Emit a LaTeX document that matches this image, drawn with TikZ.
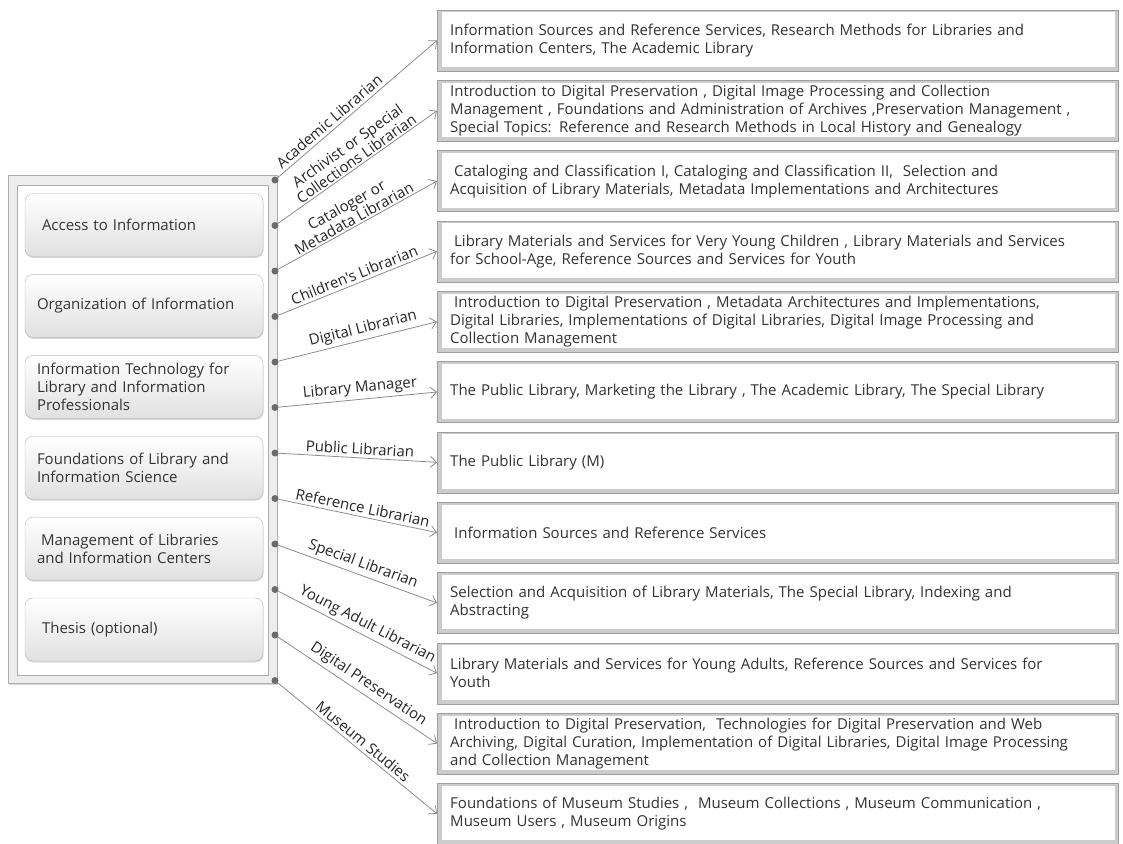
\documentclass[tikz,border=0pt]{standalone}
\usepackage{fontspec}
\newfontfamily\diagfont{Open Sans}
\usetikzlibrary{positioning, arrows.meta, shadows}

\newcommand{\diagtext}{\diagfont\fontsize{15}{18}\selectfont}
\newcommand{\roletext}{\diagfont\fontsize{15}{15.5}\selectfont}
\tikzset{
  area/.style={rectangle, rounded corners=8pt, draw=black!28, top color=white, bottom color=black!12,
    minimum width=238pt, minimum height=63pt, text width=214pt, inner xsep=12pt, align=left,
    font=\diagtext, text=black!80, drop shadow={shadow xshift=0.5pt, shadow yshift=-1.5pt, opacity=0.3}},
  course/.style={rectangle, draw=black!38, fill=black!20, minimum width=681pt, minimum height=61pt,
    text width=655pt, inner xsep=13pt, align=left, anchor=west, font=\diagtext, text=black!80,
    path picture={\fill[white] ([xshift=5pt,yshift=-2.5pt]path picture bounding box.north west)
      rectangle ([xshift=-3pt,yshift=4pt]path picture bounding box.south east);}},
  joint/.style={circle, fill=black!58, minimum size=7pt, inner sep=0pt},
  track/.style={draw=black!45, line width=0.8pt, -{Straight Barb[length=6pt,width=11pt]}},
  role/.style={sloped, above=2pt, font=\roletext, text=black!85, align=center, inner sep=1pt}
}

\begin{document}
\begin{tikzpicture}[x=1pt, y=-1pt]
  \useasboundingbox (0,0) rectangle (1123,843);

  % core courses
  \draw[draw=black!32, fill=black!7, drop shadow={shadow xshift=0.5pt, shadow yshift=-1.5pt, opacity=0.3}] (8,175) rectangle (277,683);
  \draw[draw=black!32, fill=white] (17,185) rectangle (268,675);
  \node[area] (access) at (144,225) {\hspace*{5pt}Access to Information};
  \node[area, below=17.5pt of access] (organize) {Organization of Information};
  \node[area, below=17.5pt of organize] (itech) {Information Technology for\\Library and Information\\Professionals};
  \node[area, below=17.5pt of itech] (found) {Foundations of Library and\\Information Science};
  \node[area, below=17.5pt of found] (manage) {\hspace*{4pt}Management of Libraries\\and Information Centers};
  \node[area, below=17.5pt of manage] (thesis) {\hspace*{5pt}Thesis (optional)};

  % career paths
  \node[joint] (j1) at (275,180) {};
  \node[joint] (j2) at (275,225.5) {};
  \node[joint] (j3) at (275,271) {};
  \node[joint] (j4) at (275,316.5) {};
  \node[joint] (j5) at (275,362) {};
  \node[joint] (j6) at (275,407.5) {};
  \node[joint] (j7) at (275,453) {};
  \node[joint] (j8) at (275,498.5) {};
  \node[joint] (j9) at (275,544) {};
  \node[joint] (j10) at (275,589.5) {};
  \node[joint] (j11) at (275,635) {};
  \node[joint] (j12) at (275,680.5) {};

  % recommended electives
  \node[course] (academic) at (437,40.5) {Information Sources and Reference Services, Research Methods for Libraries and\\Information Centers, The Academic Library};
  \node[course] (archive) at (437,110.8) {Introduction to Digital Preservation , Digital Image Processing and Collection\\Management , Foundations and Administration of Archives ,Preservation Management ,\\Special Topics: Reference and Research Methods in Local History and Genealogy};
  \node[course] (catalog) at (437,181.1) {\hspace*{4pt}Cataloging and Classification I, Cataloging and Classification II, \ Selection and\\Acquisition of Library Materials, Metadata Implementations and Architectures};
  \node[course] (children) at (437,251.4) {\hspace*{4pt}Library Materials and Services for Very Young Children , Library Materials and Services\\for School-Age, Reference Sources and Services for Youth};
  \node[course] (digital) at (437,321.7) {\hspace*{4pt}Introduction to Digital Preservation , Metadata Architectures and Implementations,\\Digital Libraries, Implementations of Digital Libraries, Digital Image Processing and\\Collection Management};
  \node[course] (manager) at (437,392) {The Public Library, Marketing the Library , The Academic Library, The Special Library};
  \node[course] (public) at (437,462.3) {The Public Library (M)};
  \node[course] (reference) at (437,532.6) {\hspace*{4pt}Information Sources and Reference Services};
  \node[course] (special) at (437,602.9) {Selection and Acquisition of Library Materials, The Special Library, Indexing and\\Abstracting};
  \node[course] (youngadult) at (437,673.2) {Library Materials and Services for Young Adults, Reference Sources and Services for\\Youth};
  \node[course] (preserve) at (437,743.5) {\hspace*{4pt}Introduction to Digital Preservation, \ Technologies for Digital Preservation and Web\\Archiving, Digital Curation, Implementation of Digital Libraries, Digital Image Processing\\and Collection Management};
  \node[course] (museum) at (437,813.8) {Foundations of Museum Studies , \ Museum Collections , Museum Communication ,\\Museum Users , Museum Origins};

  \draw[track] (j1) -- (academic.west) node[role, pos=0.36] {Academic Librarian};
  \draw[track] (j2) -- (archive.west) node[role, pos=0.52, above=0.5pt] {Archivist or Special\\Collections Librarian};
  \draw[track] (j3) -- (catalog.west) node[role, pos=0.5, above=0.5pt] {Cataloger or\\Metadata Librarian};
  \draw[track] (j4) -- (children.west) node[role, pos=0.5] {Children's Librarian};
  \draw[track] (j5) -- (digital.west) node[role, pos=0.55] {Digital Librarian};
  \draw[track] (j6) -- (manager.west) node[role, pos=0.52] {Library Manager};
  \draw[track] (j7) -- (public.west) node[role, pos=0.51] {Public Librarian};
  \draw[track] (j8) -- (reference.west) node[role, pos=0.52] {Reference Librarian};
  \draw[track] (j9) -- (special.west) node[role, pos=0.51] {Special Librarian};
  \draw[track] (j10) -- (youngadult.west) node[role, pos=0.53] {Young Adult Librarian};
  \draw[track] (j11) -- (preserve.west) node[role, pos=0.53] {Digital Preservation};
  \draw[track] (j12) -- (museum.west) node[role, pos=0.5] {Museum Studies};
\end{tikzpicture}
\end{document}
